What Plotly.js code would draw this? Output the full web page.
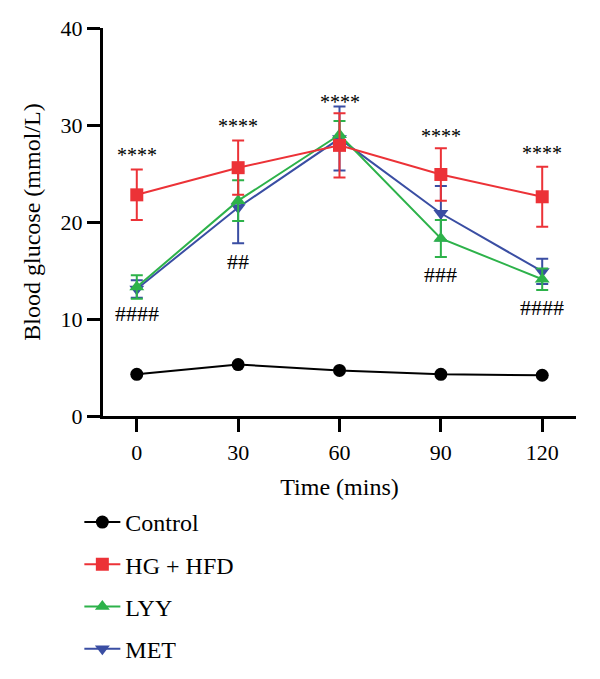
<!DOCTYPE html>
<html>
<head>
<meta charset="utf-8">
<script src="https://cdn.plot.ly/plotly-3.0.1.min.js"></script>
<style>html,body{margin:0;padding:0;background:#fff;}#chart{width:600px;height:679px;}</style>
</head>
<body>
<div id="chart"></div>
<script>
// ---- data ----
const times = [0, 30, 60, 90, 120];
const controlMean = [4.3, 5.3, 4.7, 4.3, 4.2];
const controlErr  = [0.2, 0.3, 0.2, 0.2, 0.2];
const hgMean = [22.8, 25.6, 27.9, 24.9, 22.6];
const hgErr  = [2.6, 2.8, 3.3, 2.7, 3.1];
const lyyMean = [13.3, 22.2, 29.0, 18.3, 14.1];
const lyyErr  = [1.2, 2.1, 1.4, 1.9, 1.1];
const metMean = [13.1, 21.5, 28.6, 20.9, 14.9];
const metErr  = [0.9, 3.7, 3.3, 2.8, 1.3];
const starX = [0, 30, 60, 90, 120];
const starY = [27.4, 30.4, 32.9, 29.4, 27.6];
const starText = ["****", "****", "****", "****", "****"];
const hashX = [0, 30, 90, 120];
const hashY = [10.6, 15.9, 14.6, 11.2];
const hashText = ["####", "##", "###", "####"];
const xTicks = [0, 30, 60, 90, 120];
const yTicks = [0, 10, 20, 30, 40];

const FONT = "Liberation Serif";
const RED = "#EC3237", GREEN = "#2DB24A", BLUE = "#3A4EA3", BLACK = "#000000";

function tr(name, y, err, color, symbol, rank, showErr) {
  return {
    x: times, y: y, name: name, type: "scatter", mode: "lines+markers",
    legendgroup: name, legendrank: rank,
    line: {color: color, width: 2},
    marker: {color: color, symbol: symbol, size: 13, line: {width: 0}},
    error_y: {type: "data", array: err, visible: showErr, color: color, thickness: 2, width: 6},
    cliponaxis: false
  };
}

const data = [
  tr("Control", controlMean, controlErr, BLACK, "circle", 1, false),
  tr("MET", metMean, metErr, BLUE, "triangle-down", 4, true),
  tr("LYY", lyyMean, lyyErr, GREEN, "triangle-up", 3, true),
  tr("HG + HFD", hgMean, hgErr, RED, "square", 2, true)
];

const annotations = [];
starX.forEach((x, i) => annotations.push({
  x: x, y: starY[i], xref: "x", yref: "y", text: starText[i], showarrow: false,
  yanchor: "middle", yshift: -5, font: {family: FONT, size: 20, color: "#000"}
}));
hashX.forEach((x, i) => annotations.push({
  x: x, y: hashY[i], xref: "x", yref: "y", text: hashText[i], showarrow: false,
  yanchor: "middle", font: {family: FONT, size: 22, color: "#000"}
}));

const axisCommon = {
  showline: true, linewidth: 3, linecolor: "#000", showgrid: false, zeroline: false,
  ticks: "outside", ticklen: 13, tickwidth: 3, tickcolor: "#000",
  tickfont: {family: FONT, size: 22, color: "#000"}
};

const layout = {
  width: 600, height: 679,
  margin: {l: 103, r: 24, t: 28, b: 263, autoexpand: false},
  paper_bgcolor: "#fff", plot_bgcolor: "#fff",
  font: {family: FONT, color: "#000"},
  showlegend: true,
  legend: {
    x: -0.05, xanchor: "left", y: -0.2165, yanchor: "top",
    font: {family: FONT, size: 24, color: "#000"},
    itemwidth: 36, tracegroupgap: 8, bgcolor: "rgba(0,0,0,0)"
  },
  xaxis: Object.assign({}, axisCommon, {
    range: [-10, 130], tickvals: xTicks, ticktext: xTicks.map(String),
    ticklabelstandoff: 2,
    title: {text: "Time (mins)", font: {family: FONT, size: 24, color: "#000"}, standoff: 14}
  }),
  yaxis: Object.assign({}, axisCommon, {
    range: [0, 40], tickvals: yTicks, ticktext: yTicks.map(String),
    title: {text: "Blood glucose (mmol/L)", font: {family: FONT, size: 24, color: "#000"}, standoff: 14}
  }),
  annotations: annotations
};

Plotly.newPlot("chart", data, layout, {staticPlot: true, displayModeBar: false});
</script>
</body>
</html>
